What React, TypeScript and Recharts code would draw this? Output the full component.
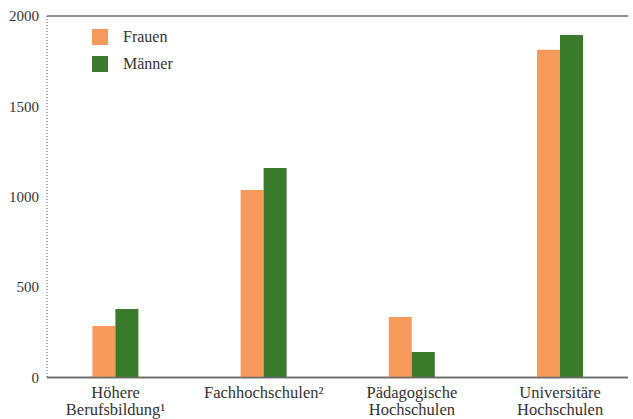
import React from "react";
import { BarChart, Bar, XAxis, YAxis, CartesianGrid, Legend } from "recharts";

const categories = ["Höhere|Berufsbildung¹", "Fachhochschulen²", "Pädagogische|Hochschulen", "Universitäre|Hochschulen"];
const frauen = [285, 1037, 335, 1813];
const maenner = [379, 1159, 141, 1895];
const yTicks = [0, 500, 1000, 1500, 2000];
const seriesNames = ["Frauen", "Männer"];
const seriesColors = ["#F7995B", "#3A7A2B"];

const data = categories.map((c, i) => ({ cat: c, frauen: frauen[i], maenner: maenner[i] }));

const FONT = "Liberation Serif, Times New Roman, Tinos, DejaVu Serif, Noto Serif, serif";
const TEXT = "#333333";
const LINE = "#6a6a6a";

const XTick = (props: any) => {
  const { x, y, payload } = props;
  const lines = String(payload.value).split("|");
  return (
    <g transform={`translate(${x},${y})`}>
      {lines.map((l, i) => (
        <text key={i} x={0} y={0} dy={12 + i * 17.5} textAnchor="middle" fill={TEXT} fontSize={16.5} style={{ fontFamily: FONT }}>
          {l}
        </text>
      ))}
    </g>
  );
};

const LegendContent = () => (
  <div style={{ fontFamily: FONT, fontSize: 16, color: TEXT }}>
    {seriesNames.map((n, i) => (
      <div key={n} style={{ display: "flex", alignItems: "center", height: 16, marginBottom: 11 }}>
        <span style={{ display: "inline-block", width: 16, height: 16, background: seriesColors[i], marginRight: 15 }} />
        <span style={{ lineHeight: "16px" }}>{n}</span>
      </div>
    ))}
  </div>
);

export default function App() {
  return (
    <div style={{ position: "fixed", left: 0, top: 0, width: 633, height: 419, background: "#fff", fontFamily: FONT }}>
      <BarChart
        width={633}
        height={419}
        data={data}
        margin={{ top: 16, right: 5, bottom: 0, left: 0 }}
        barGap={0}
        barSize={23}
        style={{ fontFamily: FONT }}
      >
        <CartesianGrid vertical={false} stroke={LINE} strokeWidth={1.5} />
        <XAxis
          dataKey="cat"
          height={41.5}
          tickLine={false}
          axisLine={{ stroke: LINE, strokeWidth: 1.5 }}
          tick={<XTick />}
          interval={0}
          padding={{ left: -5.6, right: -6.2 }}
        />
        <YAxis
          yAxisId="left"
          width={47}
          domain={[0, 2000]}
          ticks={yTicks}
          tickLine={false}
          axisLine={{ stroke: "#555", strokeDasharray: "1 2" }}
          tick={{ fill: TEXT, fontSize: 15, style: { fontFamily: FONT } }}
        />
        <YAxis
          yAxisId="right"
          orientation="right"
          width={0}
          domain={[0, 2000]}
          ticks={yTicks}
          tick={false}
          tickLine={false}
          axisLine={{ stroke: "#999", strokeDasharray: "1 2" }}
        />
        <Legend
          layout="vertical"
          verticalAlign="middle"
          align="center"
          wrapperStyle={{ left: 92, top: 29, width: 120 }}
          content={<LegendContent />}
        />
        <Bar yAxisId="left" dataKey="frauen" name={seriesNames[0]} fill={seriesColors[0]} isAnimationActive={false} />
        <Bar yAxisId="left" dataKey="maenner" name={seriesNames[1]} fill={seriesColors[1]} isAnimationActive={false} />
      </BarChart>
    </div>
  );
}
